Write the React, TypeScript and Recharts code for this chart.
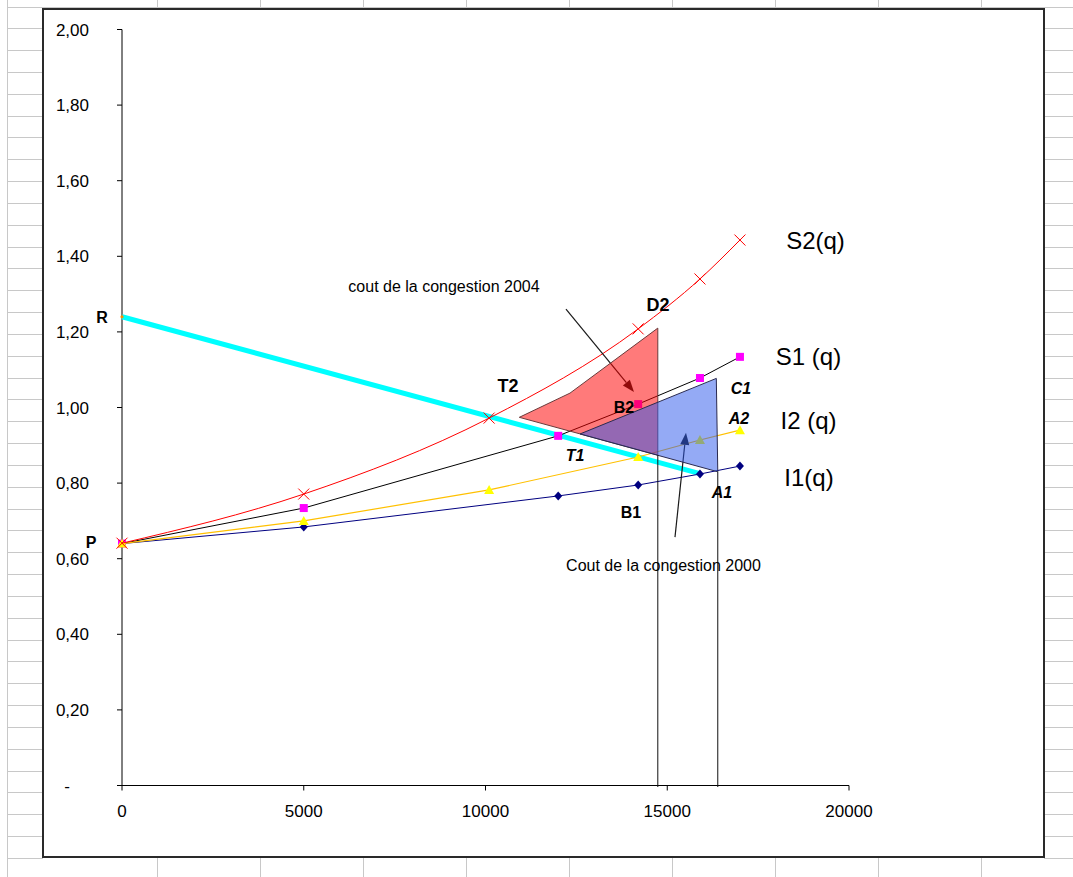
import React from 'react';
import { ScatterChart, Scatter, XAxis, YAxis } from 'recharts';

// ---------- data ----------
const X_TICKS = [0, 5000, 10000, 15000, 20000];
const Y_TICKS = [0, 0.2, 0.4, 0.6, 0.8, 1.0, 1.2, 1.4, 1.6, 1.8, 2.0];

const DEMAND_R = [
  { x: 0, y: 1.24 },
  { x: 15900, y: 0.825 },
];
const I1 = [
  { x: 0, y: 0.64 },
  { x: 5000, y: 0.684 },
  { x: 12000, y: 0.766 },
  { x: 14200, y: 0.795 },
  { x: 15900, y: 0.824 },
  { x: 17000, y: 0.845 },
];
const S1 = [
  { x: 0, y: 0.64 },
  { x: 5000, y: 0.734 },
  { x: 12000, y: 0.925 },
  { x: 14200, y: 1.009 },
  { x: 15900, y: 1.078 },
  { x: 17000, y: 1.134 },
];
const I2 = [
  { x: 0, y: 0.64 },
  { x: 5000, y: 0.7 },
  { x: 10100, y: 0.782 },
  { x: 14200, y: 0.869 },
  { x: 15900, y: 0.914 },
  { x: 17000, y: 0.94 },
];
const S2 = [
  { x: 0, y: 0.641 },
  { x: 5000, y: 0.771 },
  { x: 10100, y: 0.972 },
  { x: 14200, y: 1.208 },
  { x: 15900, y: 1.34 },
  { x: 17000, y: 1.443 },
];

const CONGESTION_2004 = [
  { x: 10930, y: 0.974 },
  { x: 12324, y: 1.038 },
  { x: 14740, y: 1.21 },
  { x: 14740, y: 0.874 },
];
const CONGESTION_2000 = [
  { x: 12600, y: 0.93 },
  { x: 16350, y: 1.077 },
  { x: 16390, y: 0.83 },
];
const DROP_2004 = [
  { x: 14740, y: 0 },
  { x: 14740, y: 0.874 },
];
const DROP_2000 = [
  { x: 16390, y: 0 },
  { x: 16390, y: 0.83 },
];
const ARROW_2004 = [
  { x: 12214, y: 1.26 },
  { x: 14085, y: 1.041 },
];
const ARROW_2000 = [
  { x: 15213, y: 0.657 },
  { x: 15516, y: 0.933 },
];

const LABELS = [
  { x: 8858, y: 1.319, text: 'cout de la congestion 2004' },
  { x: 14897, y: 0.581, text: 'Cout de la congestion 2000' },
  { x: 14745, y: 1.271, text: 'D2' },
  { x: 10619, y: 1.057, text: 'T2' },
  { x: 13810, y: 0.999, text: 'B2' },
  { x: 12462, y: 0.872, text: 'T1' },
  { x: 17028, y: 1.049, text: 'C1' },
  { x: 16973, y: 0.97, text: 'A2' },
  { x: 16506, y: 0.774, text: 'A1' },
  { x: 14003, y: 0.721, text: 'B1' },
  { x: 0, y: 1.239, text: 'R' },
  { x: 0, y: 0.642, text: 'P' },
  { x: 19078, y: 1.443, text: 'S2(q)' },
  { x: 18886, y: 1.134, text: 'S1 (q)' },
  { x: 18886, y: 0.965, text: 'I2 (q)' },
  { x: 18900, y: 0.816, text: 'I1(q)' },
];

// ---------- styles ----------
const FONT = 'Arial, "Liberation Sans", sans-serif';
type LStyle = { size: number; weight?: string; italic?: boolean; dx?: number };
const LABEL_STYLE: Record<string, LStyle> = {
  'cout de la congestion 2004': { size: 16 },
  'Cout de la congestion 2000': { size: 16 },
  D2: { size: 18, weight: 'bold' },
  T2: { size: 18, weight: 'bold' },
  B2: { size: 16, weight: 'bold' },
  B1: { size: 16, weight: 'bold' },
  T1: { size: 16, weight: 'bold', italic: true },
  C1: { size: 16, weight: 'bold', italic: true },
  A2: { size: 16, weight: 'bold', italic: true },
  A1: { size: 16, weight: 'bold', italic: true },
  R: { size: 16, weight: 'bold', dx: -20 },
  P: { size: 16, weight: 'bold', dx: -31 },
  'S2(q)': { size: 24 },
  'S1 (q)': { size: 24 },
  'I2 (q)': { size: 24 },
  'I1(q)': { size: 24 },
};

const noShape = () => <g />;

const crossShape = (p: any) => {
  const { cx, cy } = p;
  const s = 5.5;
  return (
    <g>
      <line x1={cx - s} y1={cy - s} x2={cx + s} y2={cy + s} stroke="#FF0000" strokeWidth={1} />
      <line x1={cx - s} y1={cy + s} x2={cx + s} y2={cy - s} stroke="#FF0000" strokeWidth={1} />
    </g>
  );
};
const squareShape = (p: any) => (
  <rect x={p.cx - 4} y={p.cy - 4} width={8} height={8} fill="#FF00FF" />
);
const triangleShape = (p: any) => (
  <polygon
    points={`${p.cx},${p.cy - 5} ${p.cx + 5},${p.cy + 4} ${p.cx - 5},${p.cy + 4}`}
    fill="#FFFF00"
  />
);
const diamondShape = (p: any) => (
  <polygon
    points={`${p.cx},${p.cy - 4.5} ${p.cx + 4},${p.cy} ${p.cx},${p.cy + 4.5} ${p.cx - 4},${p.cy}`}
    fill="#000080"
  />
);
const dotShape = (p: any) => <circle cx={p.cx} cy={p.cy} r={1.6} fill="#FF8C00" />;

const polygonLine = (fill: string, opacity: number, stroke: string) => (p: any) => (
  <polygon
    points={p.points.map((q: any) => `${q.x},${q.y}`).join(' ')}
    fill={fill}
    fillOpacity={opacity}
    stroke={stroke}
    strokeWidth={1}
  />
);

const arrowLine = (color: string) => (p: any) => {
  const [a, b] = p.points;
  const dx = b.x - a.x;
  const dy = b.y - a.y;
  const len = Math.hypot(dx, dy) || 1;
  const ux = dx / len;
  const uy = dy / len;
  const hl = 12;
  const hw = 4.5;
  const bx = b.x - ux * hl;
  const by = b.y - uy * hl;
  return (
    <g>
      <line x1={a.x} y1={a.y} x2={bx} y2={by} stroke={color} strokeWidth={1.2} />
      <polygon
        points={`${b.x},${b.y} ${bx - uy * hw},${by + ux * hw} ${bx + uy * hw},${by - ux * hw}`}
        fill={color}
      />
    </g>
  );
};

const plainLine = (color: string) => (p: any) => {
  const [a, b] = p.points;
  return <line x1={a.x} y1={a.y + 1.5} x2={b.x} y2={b.y} stroke={color} strokeWidth={1} />;
};

const labelShape = (p: any) => {
  const d = p.payload;
  const st = LABEL_STYLE[d.text] || { size: 16 };
  return (
    <text
      x={p.cx + (st.dx || 0)}
      y={p.cy}
      textAnchor="middle"
      dominantBaseline="central"
      fontFamily={FONT}
      fontSize={st.size}
      fontWeight={st.weight || 'normal'}
      fontStyle={st.italic ? 'italic' : 'normal'}
      fill="#000"
    >
      {d.text}
    </text>
  );
};

const yTick = (props: any) => {
  const { x, y, payload } = props;
  const v = payload.value;
  if (Math.abs(v) < 1e-9) {
    return (
      <text x={x - 22} y={y} dy="0.355em" textAnchor="middle" fontFamily={FONT} fontSize={17} fill="#000">
        -
      </text>
    );
  }
  return (
    <text x={x} y={y} dy="0.355em" textAnchor="end" fontFamily={FONT} fontSize={17} fill="#000">
      {v.toFixed(2).replace('.', ',')}
    </text>
  );
};

// ---------- spreadsheet background ----------
const SheetGrid = () => {
  const lines: React.ReactNode[] = [];
  const col = '#C8C8C8';
  for (let k = 0; k < 41; k++) {
    const y = Math.round(6.5 + 21.83 * k) + 0.5;
    if (y > 877) break;
    if (k === 0) {
      lines.push(<line key={'h' + k} x1={7} y1={y} x2={1073} y2={y} stroke={col} />);
    } else {
      lines.push(<line key={'hl' + k} x1={7} y1={y} x2={43} y2={y} stroke={col} />);
      lines.push(<line key={'hr' + k} x1={1044} y1={y} x2={1073} y2={y} stroke={col} />);
    }
  }
  lines.push(<line key="v0" x1={7.5} y1={0} x2={7.5} y2={877} stroke={col} />);
  const vx = [157, 260, 363, 466, 569, 672, 775, 878, 981];
  vx.forEach((x, i) => {
    lines.push(<line key={'vt' + i} x1={x + 0.5} y1={0} x2={x + 0.5} y2={10} stroke={col} />);
    lines.push(<line key={'vb' + i} x1={x + 0.5} y1={856} x2={x + 0.5} y2={877} stroke={col} />);
  });
  return (
    <svg width={1073} height={877} style={{ position: 'absolute', left: 0, top: 0 }}>
      {lines}
    </svg>
  );
};

export default function App() {
  return (
    <div
      style={{
        position: 'absolute',
        left: 0,
        top: 0,
        width: 1073,
        height: 877,
        background: '#fff',
        overflow: 'hidden',
        fontFamily: FONT,
      }}
    >
      <SheetGrid />
      <div
        style={{
          position: 'absolute',
          left: 42,
          top: 8,
          width: 1003,
          height: 850,
          border: '2px solid #2a2a2a',
          boxSizing: 'border-box',
          background: '#fff',
        }}
      >
        <ScatterChart
          width={999}
          height={846}
          margin={{ top: 19.5, right: 194, bottom: 0, left: 0 }}
          style={{ fontFamily: FONT }}
        >
          <XAxis
            type="number"
            dataKey="x"
            domain={[0, 20000]}
            ticks={X_TICKS}
            interval={0}
            height={70.5}
            tickSize={5}
            tickMargin={14}
            axisLine={{ stroke: '#000' }}
            tickLine={{ stroke: '#000' }}
            tick={{ fill: '#000', fontSize: 17, fontFamily: FONT }}
          />
          <YAxis
            type="number"
            dataKey="y"
            domain={[0, 2]}
            ticks={Y_TICKS}
            interval={0}
            width={78}
            tickSize={5}
            tickMargin={28}
            axisLine={{ stroke: '#000' }}
            tickLine={{ stroke: '#000' }}
            tick={yTick}
          />
          <Scatter
            data={DEMAND_R}
            shape={dotShape}
            line={{ stroke: '#00FFFF', strokeWidth: 5 }}
            isAnimationActive={false}
          />
          <Scatter
            data={I1}
            shape={diamondShape}
            line={{ stroke: '#000080', strokeWidth: 1 }}
            isAnimationActive={false}
          />
          <Scatter
            data={S1}
            shape={squareShape}
            line={{ stroke: '#000000', strokeWidth: 1 }}
            isAnimationActive={false}
          />
          <Scatter
            data={I2}
            shape={triangleShape}
            line={{ stroke: '#FFC000', strokeWidth: 1.2 }}
            isAnimationActive={false}
          />
          <Scatter
            data={S2}
            shape={crossShape}
            line={{ stroke: '#FF0000', strokeWidth: 1 }}
            lineJointType="monotoneX"
            isAnimationActive={false}
          />
          <Scatter data={ARROW_2004} shape={noShape} line={arrowLine('#1a1a1a')} isAnimationActive={false} />
          <Scatter data={ARROW_2000} shape={noShape} line={arrowLine('#1a1a1a')} isAnimationActive={false} />
          <Scatter
            data={CONGESTION_2004}
            shape={noShape}
            line={polygonLine('#FF0000', 0.52, '#6a3a3a')}
            isAnimationActive={false}
          />
          <Scatter
            data={CONGESTION_2000}
            shape={noShape}
            line={polygonLine('#2955EB', 0.5, '#2a2a50')}
            isAnimationActive={false}
          />
          <Scatter data={DROP_2004} shape={noShape} line={plainLine('#111')} isAnimationActive={false} />
          <Scatter data={DROP_2000} shape={noShape} line={plainLine('#111')} isAnimationActive={false} />
          <Scatter data={LABELS} shape={labelShape} isAnimationActive={false} />
        </ScatterChart>
      </div>
    </div>
  );
}
